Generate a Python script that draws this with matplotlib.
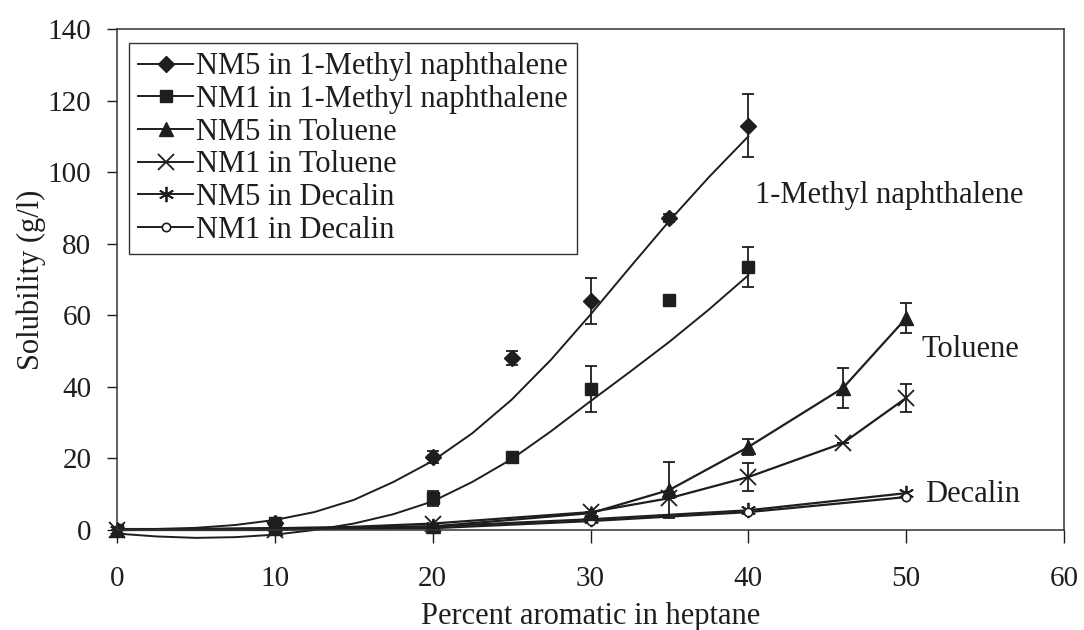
import numpy as np
import matplotlib
matplotlib.use("Agg")
import matplotlib.pyplot as plt
from matplotlib.lines import Line2D

plt.rcParams['font.family'] = ['Liberation Serif', 'DejaVu Serif']

# 1-methyl naphthalene series (markers with error bars)
x_mn = [0, 10, 20, 25, 30, 35, 40]
nm5_mn = [0, 2, 20.4, 48, 64, 87.2, 113]
nm5_mn_err = [0, 0, 1.7, 2, 6.3, 1, 8.8]
nm1_mn = [0, 2, 8.9, 20.4, 39.4, 64.2, 73.5]
nm1_mn_err = [0, 0, 2.1, 0, 6.4, 1.5, 5.5]

# trendlines for the 1-methyl naphthalene series
x_trend = [0, 2.5, 5, 7.5, 10, 12.5, 15, 17.5, 20, 22.5, 25, 27.5, 30, 32.5, 35, 37.5, 40]
nm5_trend = [0.3, 0.3, 0.6, 1.4, 2.8, 5.0, 8.4, 13.4, 19.3, 27.0, 36.4, 47.6, 60.2, 73.4, 86.4, 98.6, 110]
nm1_trend = [-1.0, -1.8, -2.2, -2.0, -1.3, 0, 1.8, 4.4, 8.0, 13.4, 19.8, 27.6, 36.0, 44.2, 52.6, 61.6, 71.2]

# toluene series
x_tol = [0, 10, 20, 30, 35, 40, 46, 50]
nm5_tol = [0, 0.5, 1, 4.7, 11.2, 23.2, 39.7, 59.2]
nm5_tol_err = [0, 0, 0, 0, 7.8, 2.3, 5.7, 4.2]
nm1_tol = [0, 0, 1.8, 5, 8.9, 14.8, 24.3, 36.9]
nm1_tol_err = [0, 0, 0, 0, 0, 4, 0, 4]

# decalin series
x_dec = [0, 10, 20, 30, 40, 50]
nm5_dec = [0, 0.5, 1, 3, 5.5, 10.3]
nm1_dec = [0, 0.3, 0.5, 2.5, 5, 9.2]

labels = ["NM5 in 1-Methyl naphthalene", "NM1 in 1-Methyl naphthalene",
          "NM5 in Toluene", "NM1 in Toluene", "NM5 in Decalin", "NM1 in Decalin"]

c = '#1e1e1e'
fig = plt.figure(figsize=(10.84, 6.3), dpi=100)
ax = fig.add_axes([117/1084, 1 - 530/630, 947/1084, 501/630])

eb = dict(ecolor=c, elinewidth=1.3, capsize=4.5, capthick=1.3)

# 1-MN: points with error bars plus trendlines
ax.errorbar(x_mn, nm5_mn, yerr=nm5_mn_err, marker='D', ms=8, color=c, linestyle='none', **eb)
ax.errorbar(x_mn, nm1_mn, yerr=nm1_mn_err, marker='s', ms=9, color=c, linestyle='none', **eb)
ax.plot(x_trend, nm5_trend, color=c, lw=1.4, clip_on=False)
ax.plot(x_trend, nm1_trend, color=c, lw=1.4, clip_on=False)

# toluene
ax.errorbar(x_tol, nm5_tol, yerr=nm5_tol_err, marker='^', ms=10, color=c, lw=1.6,
            clip_on=False, **eb)
ax.errorbar(x_tol, nm1_tol, yerr=nm1_tol_err, marker='x', ms=12, mew=1.3, color=c, lw=1.6,
            clip_on=False, **eb)

# decalin
ax.plot(x_dec, nm5_dec, marker=(6, 2, 0), ms=11, mew=1.3, color=c, lw=1.6, clip_on=False)
ax.plot(x_dec, nm1_dec, marker='o', ms=6, mfc='white', mew=1.2, color=c, lw=1.6, clip_on=False)

ax.set_xlim(0, 60)
ax.set_ylim(0, 140)
ax.set_xticks(range(0, 61, 10))
ax.set_yticks(range(0, 141, 20))
ax.tick_params(axis='x', direction='out', length=9, width=1, pad=17, labelsize=21, colors=c)
ax.tick_params(axis='y', direction='out', length=7, width=1, pad=11.5, labelsize=21, colors=c)
for s in ax.spines.values():
    s.set_color('#333333')
    s.set_linewidth(1.1)

ax.set_xlabel("Percent aromatic in heptane", fontsize=22, color=c, labelpad=7)
ax.set_ylabel("Solubility (g/l)", fontsize=22, color=c, labelpad=1)

ax.text(40.4, 93.6, "1-Methyl naphthalene", fontsize=22, color=c, va='center')
ax.text(51.0, 50.3, "Toluene", fontsize=22, color=c, va='center')
ax.text(51.2, 10, "Decalin", fontsize=22, color=c, va='center')

handles = [
    Line2D([], [], color=c, lw=1.4, marker='D', ms=8),
    Line2D([], [], color=c, lw=1.4, marker='s', ms=9),
    Line2D([], [], color=c, lw=1.4, marker='^', ms=10),
    Line2D([], [], color=c, lw=1.4, marker='x', ms=12, mew=1.3),
    Line2D([], [], color=c, lw=1.4, marker=(6, 2, 0), ms=11, mew=1.3),
    Line2D([], [], color=c, lw=1.4, marker='o', ms=6, mfc='white', mew=1.2),
]
leg = ax.legend(handles, labels, loc='upper left', bbox_to_anchor=(0.0127, 0.972),
                borderaxespad=0, fontsize=22, fancybox=False, framealpha=1,
                edgecolor='#333333', labelspacing=0.12, handlelength=1.8,
                handletextpad=0.1, borderpad=0.3)
leg.get_frame().set_linewidth(1.0)
for t in leg.get_texts():
    t.set_color(c)

fig.savefig("out.png", dpi=100)
